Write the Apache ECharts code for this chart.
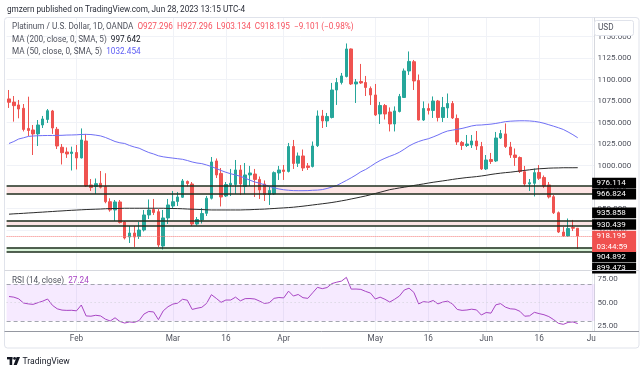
<!DOCTYPE html>
<html><head><meta charset="utf-8">
<script src="https://cdn.jsdelivr.net/npm/echarts/dist/echarts.min.js"></script>
<style>html,body{margin:0;padding:0;background:#fff}#c{width:643px;height:373px}</style>
</head><body><div id="c"></div>
<script>
const dates = ['2023-01-12','2023-01-13','2023-01-16','2023-01-17','2023-01-18','2023-01-19','2023-01-20','2023-01-23','2023-01-24','2023-01-25','2023-01-26','2023-01-27','2023-01-30','2023-01-31',
'2023-02-01','2023-02-02','2023-02-03','2023-02-06','2023-02-07','2023-02-08','2023-02-09','2023-02-10','2023-02-13','2023-02-14','2023-02-15','2023-02-16','2023-02-17','2023-02-20','2023-02-21','2023-02-22','2023-02-23','2023-02-24','2023-02-27','2023-02-28',
'2023-03-01','2023-03-02','2023-03-03','2023-03-06','2023-03-07','2023-03-08','2023-03-09','2023-03-10','2023-03-13','2023-03-14','2023-03-15','2023-03-16','2023-03-17','2023-03-20','2023-03-21','2023-03-22','2023-03-23','2023-03-24','2023-03-27','2023-03-28','2023-03-29','2023-03-30','2023-03-31',
'2023-04-03','2023-04-04','2023-04-05','2023-04-06','2023-04-10','2023-04-11','2023-04-12','2023-04-13','2023-04-14','2023-04-17','2023-04-18','2023-04-19','2023-04-20','2023-04-21','2023-04-24','2023-04-25','2023-04-26','2023-04-27','2023-04-28',
'2023-05-01','2023-05-02','2023-05-03','2023-05-04','2023-05-05','2023-05-08','2023-05-09','2023-05-10','2023-05-11','2023-05-12','2023-05-15','2023-05-16','2023-05-17','2023-05-18','2023-05-19','2023-05-22','2023-05-23','2023-05-24','2023-05-25','2023-05-26','2023-05-29','2023-05-30','2023-05-31',
'2023-06-01','2023-06-02','2023-06-05','2023-06-06','2023-06-07','2023-06-08','2023-06-09','2023-06-12','2023-06-13','2023-06-14','2023-06-15','2023-06-16','2023-06-19','2023-06-20','2023-06-21','2023-06-22','2023-06-23','2023-06-26','2023-06-27','2023-06-28','2023-06-29','2023-06-30',
'2023-07-03'];

const tickLabels = {'2023-02-01':'Feb','2023-03-01':'Mar','2023-03-16':'16','2023-04-03':'Apr','2023-05-01':'May','2023-05-16':'16','2023-06-01':'Jun','2023-06-16':'16','2023-07-03':'Jul'};

const opens = [1077.6,1073.9,1070.6,1066.7,1043.3,1041.5,1036.9,1047.3,1053.7,1063.6,
1042.3,1021.4,1015.9,1014.2,1015.3,1009.0,1028.7,977.6,975.8,979.5,
975.6,958.1,948.5,957.8,934.5,917.1,921.7,917.7,925.2,942.7,
949.1,946.5,906.6,939.2,953.1,958.4,963.3,981.6,978.7,932.2,
936.9,944.6,962.1,1005.5,991.0,964.8,977.6,978.1,995.0,975.8,
989.2,990.3,984.0,978.7,966.5,967.1,991.5,995.0,993.3,1022.3,
1002.8,1011.3,999.7,999.1,1023.3,1057.8,1052.0,1056.0,1088.0,1096.7,
1103.7,1135.7,1095.0,1097.9,1096.7,1089.8,1082.2,1060.1,1070.0,1062.4,
1048.5,1063.0,1079.3,1110.1,1120.9,1099.1,1053.1,1066.5,1064.2,1075.2,
1056.0,1067.1,1072.3,1054.9,1027.0,1023.5,1024.1,1028.7,1022.3,996.2,
1007.2,1005.5,1032.2,1036.9,1021.7,1012.4,1009.5,993.0,978.7,979.5,
992.1,986.3,977.6,963.9,945.3,922.9,918.2,928.1,927.296];
const closes = [1073.7,1069.8,1065.9,1042.1,1040.9,1036.9,1047.3,1054.3,1063.9,1043.8,
1022.9,1015.1,1013.6,1015.9,1009.0,1029.9,976.4,974.6,979.1,974.9,
958.1,948.5,957.8,934.0,915.9,921.7,917.1,925.2,942.7,948.5,
945.6,907.8,939.2,954.3,958.1,963.6,982.2,979.3,932.2,937.4,
944.4,962.1,1004.3,989.2,963.6,978.1,979.5,995.0,978.7,989.2,
991.5,984.0,971.7,966.5,971.2,991.9,995.0,993.3,1022.3,1002.6,
1011.3,997.3,997.9,1022.9,1057.8,1052.0,1057.2,1088.0,1096.7,1104.3,
1135.7,1095.0,1097.3,1096.2,1090.9,1082.2,1059.0,1070.0,1060.1,1048.5,
1063.6,1080.5,1110.1,1121.2,1098.5,1053.1,1066.5,1064.2,1075.2,1056.0,
1067.7,1072.3,1055.5,1027.6,1023.5,1025.2,1028.7,1022.9,996.2,1006.6,
1004.9,1032.2,1037.4,1022.3,1012.4,1009.5,993.3,978.7,980.2,991.9,
985.3,976.4,963.6,945.3,922.9,918.2,927.0,927.296,918.195];
const lows = [1067.1,1051.2,1055.1,1039.8,1034.5,1012.4,1022.9,1043.8,1049.6,1036.9,
1019.4,1001.4,1009.0,994.4,995.6,1008.4,975.2,970.6,967.1,973.5,
956.3,946.5,935.7,932.8,914.2,910.1,905.5,914.8,923.5,938.0,
942.7,905.5,902.5,932.2,949.7,953.1,962.4,975.8,929.9,930.5,
932.8,941.5,960.7,985.7,952.6,963.6,964.8,967.1,965.9,967.1,
976.4,963.6,961.3,958.9,954.3,965.9,983.4,983.4,992.1,996.2,
998.5,993.8,995.0,997.9,1021.7,1043.8,1045.0,1054.9,1070.6,1094.4,
1102.6,1093.8,1072.9,1095.0,1081.0,1070.6,1057.8,1048.5,1053.7,1039.8,
1039.8,1061.9,1078.7,1105.5,1088.0,1052.6,1052.0,1059.5,1055.5,1051.4,
1050.8,1055.5,1054.3,1024.1,1018.3,1021.7,1020.6,1018.3,995.0,995.0,
1002.0,1004.3,1031.0,1020.6,1009.0,999.7,991.5,976.4,970.6,964.2,
983.4,974.1,961.9,943.8,921.7,917.4,917.1,924.0,903.134];
const highs = [1088.0,1081.0,1076.4,1071.7,1080.2,1047.3,1053.1,1057.8,1065.9,1064.8,
1045.0,1025.2,1021.2,1022.1,1024.1,1043.3,1036.9,984.5,985.1,993.8,
991.2,962.1,960.1,960.1,935.7,929.9,929.9,934.5,948.5,960.7,
961.3,949.7,948.5,961.3,970.6,969.4,984.5,982.8,981.0,940.3,
950.8,964.8,1010.1,1008.4,997.3,981.0,996.2,1006.6,1000.8,1003.1,
999.7,996.2,987.4,982.8,975.2,993.3,999.7,1000.8,1026.4,1029.9,
1015.3,1018.8,1003.1,1028.1,1064.2,1064.8,1061.3,1096.2,1102.0,1107.8,
1142.1,1136.3,1100.8,1118.3,1104.3,1092.1,1095.0,1074.1,1071.7,1067.7,
1068.9,1083.4,1113.0,1132.8,1122.9,1106.0,1074.7,1072.3,1080.5,1076.4,
1079.9,1083.9,1075.2,1059.5,1028.7,1035.7,1035.7,1040.3,1027.6,1012.4,
1014.8,1039.2,1041.5,1049.1,1027.6,1020.0,1010.7,999.7,984.5,996.7,
1000.8,988.6,981.0,965.9,946.7,928.7,938.6,936.9,927.296];

const ma200 = [943.6,944.0,944.3,944.6,945.0,945.3,945.7,946.0,946.4,946.7,
947.1,947.4,947.8,948.1,948.4,948.7,949.0,949.2,949.4,949.6,
949.9,950.1,950.2,950.3,950.5,950.5,950.5,950.5,950.5,950.5,
950.5,950.5,950.5,950.3,950.2,950.1,949.9,949.6,949.4,949.2,
949.0,948.7,948.5,948.5,948.5,948.5,948.5,948.5,948.5,948.7,
948.8,949.1,949.3,949.5,949.9,950.2,950.6,950.9,951.3,951.7,
952.3,952.9,953.6,954.3,955.0,955.7,956.4,957.2,958.1,959.1,
960.1,961.3,962.4,963.6,964.8,966.2,967.7,969.1,970.6,972.1,
973.1,974.1,975.0,975.9,977.0,977.9,978.8,979.8,980.7,981.5,
982.3,983.1,984.0,984.8,985.5,986.2,986.7,987.3,988.0,988.8,
989.8,990.6,991.3,991.9,992.4,993.1,993.8,994.5,995.2,995.9,
996.4,996.7,997.1,997.3,997.4,997.6,997.6,997.6,997.642];
const ma50 = [1025.8,1028.1,1031.0,1032.4,1034.0,1034.5,1034.8,1035.0,1035.1,1035.1,
1035.2,1035.3,1035.6,1035.7,1035.9,1036.3,1036.4,1036.2,1035.5,1034.6,
1032.8,1030.5,1028.1,1026.6,1025.8,1023.5,1021.7,1020.3,1017.7,1015.3,
1013.6,1011.5,1010.3,1009.5,1008.8,1008.1,1007.4,1006.0,1004.3,1003.1,
1002.4,1000.8,999.0,996.7,994.4,992.3,990.6,989.2,987.7,985.5,
983.1,981.0,979.6,977.8,976.0,974.3,972.9,972.0,971.4,971.0,
970.9,970.9,971.0,971.4,971.6,972.2,973.5,975.2,977.0,979.9,
982.8,985.9,989.2,992.9,995.6,999.1,1002.8,1006.0,1008.6,1010.9,
1013.0,1015.6,1019.1,1022.9,1025.8,1028.1,1029.9,1031.3,1033.4,1035.7,
1038.3,1040.3,1041.3,1042.3,1043.3,1044.7,1046.2,1047.1,1047.3,1047.8,
1048.3,1049.1,1050.1,1051.2,1051.7,1052.0,1052.2,1052.2,1052.0,1051.5,
1050.6,1049.3,1047.6,1045.9,1044.1,1042.1,1039.2,1036.0,1032.454];
const rsi = [56.5,55.8,54.0,49.5,48.5,48.0,49.8,51.5,53.8,47.0,
43.2,41.8,41.5,41.6,41.0,47.3,35.5,35.2,36.2,35.5,
32.0,30.0,33.5,29.5,27.8,29.0,28.5,30.5,37.5,40.3,
39.8,31.5,41.0,45.5,48.3,49.3,53.5,52.5,42.5,43.8,
44.8,49.1,58.5,54.5,50.2,52.7,52.7,55.8,51.8,54.2,
54.3,53.8,51.5,49.0,49.8,54.5,55.4,55.0,62.3,57.0,
58.7,55.2,54.5,60.5,66.4,65.0,66.2,70.5,72.0,73.2,
77.2,64.5,64.6,64.2,62.0,60.2,53.8,55.8,53.5,50.5,
53.5,57.0,63.5,65.5,61.0,48.5,51.0,50.2,52.2,48.5,
50.5,51.5,48.5,42.5,41.5,41.9,42.8,42.0,36.5,39.2,
38.5,47.5,48.8,45.0,43.2,42.8,40.5,35.2,35.6,39.4,
38.0,36.8,34.8,31.5,27.5,26.4,28.5,29.0,27.24];

const priceTicks = [900,925,950,975,1000,1025,1050,1075,1100,1125,1150];
const rsiTicks = [25,50,75];
const rsiBands = [30,50,70];
const zoneTop = [976.114,935.858,904.892];
const zoneBottom = [966.824,930.439,899.473];
const countdown = '03:44:59';

// ---- styles / layout ----
const FONT = 'Roboto, "Noto Sans", sans-serif';
const UP = '#26a69a', DOWN = '#ef5350';
const zoneFill = ['#fde4e4','#fde4e4','#d9f3d9'];
const zoneLine = '#1e2e1e';
const tagShift = [-3,0,-8,-1,9.5,16,5.3];
const n = opens.length;
const lastClose = closes[n-1];
const prevClose = closes[n-2];
const tagValues = [zoneTop[0],zoneBottom[0],zoneTop[1],zoneBottom[1],zoneTop[2],zoneBottom[2],lastClose];
const tagBg = ['#000','#000','#000','#000','#000','#000','#f0514f'];
const tickIdx = new Set();
dates.forEach((d,i)=>{ if (tickLabels[d]) tickIdx.add(i); });
const ohlc = opens.map((o,i)=>[o, closes[i], lows[i], highs[i]]);

const chart = echarts.init(document.getElementById('c'), null, {renderer:'canvas'});
const axisTxt = '#50535e';
const gridCol = '#f0f2f7';

const zoneAreas = zoneTop.map((t,k)=>[{yAxis:zoneBottom[k], itemStyle:{color:zoneFill[k]}},{yAxis:t}]);
const zoneLines = [];
zoneTop.forEach((t,k)=>{
  zoneLines.push({yAxis:t, lineStyle:{color:zoneLine, width:1.5, type:'solid'}});
  zoneLines.push({yAxis:zoneBottom[k], lineStyle:{color:zoneLine, width:1.5, type:'solid'}});
});
zoneLines.push({yAxis:lastClose, lineStyle:{color:'#f47c7a', width:1, type:'dotted'}});

const chg = lastClose - prevClose;
const pct = chg / prevClose * 100;
const fmtS = v => (v < 0 ? '\u2212' : '+') + Math.abs(v).toFixed(3);
const fmtP = v => (v < 0 ? '\u2212' : '+') + Math.abs(v).toFixed(2) + '%';

function txt(x, y, text, rich, extra){
  return Object.assign({type:'text', x:x, y:y, z:100, silent:true,
    style:{text:text, rich:rich, fontFamily:FONT, fontSize:8.2, fill:'#50535e', verticalAlign:'middle', align:'left'}}, extra||{});
}
const legRich = {
  g:{fill:'#50535e', fontFamily:FONT, fontSize:8.2},
  r:{fill:'#f7525f', fontFamily:FONT, fontSize:8.2},
  k:{fill:'#131722', fontFamily:FONT, fontSize:8.2},
  b:{fill:'#5d5df5', fontFamily:FONT, fontSize:8.2},
  p:{fill:'#a845c4', fontFamily:FONT, fontSize:8.2}
};

const option = {
  animation:false,
  backgroundColor:'#fff',
  textStyle:{fontFamily:FONT},
  grid:[
    {left:6.6, top:18, width:588, height:252, outerBoundsMode:'none', containLabel:false},
    {left:6.6, top:272, width:588, height:59, outerBoundsMode:'none', containLabel:false}
  ],
  xAxis:[
    {type:'category', gridIndex:0, data:dates, boundaryGap:true,
     axisLine:{show:false}, axisTick:{show:false}, axisLabel:{show:false},
     splitLine:{show:true, alignWithLabel:true, interval:(i)=>tickIdx.has(i), lineStyle:{color:gridCol, width:1}}},
    {type:'category', gridIndex:1, data:dates, boundaryGap:true,
     axisLine:{show:false}, axisTick:{show:false},
     axisLabel:{show:true, interval:(i)=>tickIdx.has(i), formatter:(v)=>tickLabels[v]||'', color:axisTxt, fontSize:8.2, margin:4, hideOverlap:false},
     splitLine:{show:true, alignWithLabel:true, interval:(i)=>tickIdx.has(i), lineStyle:{color:gridCol, width:1}}}
  ],
  yAxis:[
    {type:'value', gridIndex:0, position:'right', min:878.7, max:1171.7, scale:true,
     axisLine:{show:true, lineStyle:{color:'#d6d8de'}}, axisTick:{show:false, customValues:priceTicks},
     axisLabel:{customValues:priceTicks, formatter:(v)=>Number(v).toFixed(3), color:axisTxt, fontSize:8, margin:3},
     splitLine:{show:true, customValues:priceTicks, lineStyle:{color:gridCol}}},
    {type:'value', gridIndex:1, position:'right', min:19.2, max:83.0, scale:true,
     axisLine:{show:true, lineStyle:{color:'#d6d8de'}}, axisTick:{show:false, customValues:rsiTicks},
     axisLabel:{customValues:rsiTicks, formatter:(v)=>Number(v).toFixed(2), color:axisTxt, fontSize:8, margin:3},
     splitLine:{show:false}}
  ],
  series:[
    {type:'candlestick', name:'XPTUSD', xAxisIndex:0, yAxisIndex:0, data:ohlc, barWidth:3, clip:false, silent:true,
     itemStyle:{color:UP, color0:DOWN, borderColor:UP, borderColor0:DOWN, borderWidth:1},
     markArea:{silent:true, data:zoneAreas},
     markLine:{silent:true, symbol:['none','none'], label:{show:false}, data:zoneLines}},
    {type:'line', name:'MA200', xAxisIndex:0, yAxisIndex:0, data:ma200, symbol:'none', silent:true,
     lineStyle:{color:'#2b2b2b', width:1}},
    {type:'line', name:'MA50', xAxisIndex:0, yAxisIndex:0, data:ma50, symbol:'none', silent:true,
     lineStyle:{color:'#6f6ff5', width:1}},
    {type:'custom', name:'tags', xAxisIndex:0, yAxisIndex:0, clip:false, silent:true, z:10,
     data:tagValues.map((v,k)=>[0, v, k]),
     renderItem:function(params, api){
       const k = api.value(2);
       const v = api.value(1);
       const yc = api.coord([0, v])[1] + tagShift[k];
       const cs = params.coordSys;
       const x0 = cs.x + cs.width;
       const two = (k === tagValues.length - 1);
       const h = two ? 21.4 : 10.7;
       const t = two ? (v.toFixed(3) + '\n' + countdown) : v.toFixed(3);
       return {type:'group', children:[
         {type:'rect', shape:{x:x0-2.5, y:yc-h/2, width:44, height:h}, style:{fill:tagBg[k]}},
         {type:'text', x:x0+2, y:yc, style:{text:t, fill:'#fff', fontSize:8, fontFamily:FONT, verticalAlign:'middle', align:'left', lineHeight:10.7}}
       ]};
     }},
    {type:'line', name:'RSI', xAxisIndex:1, yAxisIndex:1, data:rsi, symbol:'none', silent:true,
     lineStyle:{color:'#a845c4', width:1},
     markArea:{silent:true, data:[[{yAxis:rsiBands[0], itemStyle:{color:'rgba(153,21,255,0.09)'}},{yAxis:rsiBands[2]}]]},
     markLine:{silent:true, symbol:['none','none'], label:{show:false}, data:[
       {yAxis:rsiBands[2], lineStyle:{color:'#a3a6af', type:[4,3], width:1}},
       {yAxis:rsiBands[1], lineStyle:{color:'#d0d2d8', type:[1,3], width:1}},
       {yAxis:rsiBands[0], lineStyle:{color:'#a3a6af', type:[4,3], width:1}}
     ]}}
  ],
  graphic:[
    {type:'rect', z:0, silent:true, shape:{x:4.5, y:17.5, width:634.5, height:330.5, r:3}, style:{fill:'none', stroke:'#e0e3eb', lineWidth:1}},
    {type:'line', z:100, silent:true, shape:{x1:4.5, y1:270.5, x2:639, y2:270.5}, style:{stroke:'#d6d8de', lineWidth:1}},
    {type:'line', z:100, silent:true, shape:{x1:4.5, y1:331.5, x2:639, y2:331.5}, style:{stroke:'#9598a1', lineWidth:1}},
    {type:'rect', z:99, silent:true, shape:{x:596, y:332, width:42, height:15}, style:{fill:'#fff'}},
    {type:'rect', z:100, silent:true, shape:{x:594.5, y:20.5, width:39, height:15, r:2}, style:{fill:'#fff', stroke:'#e0e3eb', lineWidth:1}},
    txt(598, 28, 'USD', null, {}),
    txt(7, 9.5, 'gmzern published on TradingView.com, Jun 28, 2023 13:15 UTC-4', null, {style:{text:'gmzern published on TradingView.com, Jun 28, 2023 13:15 UTC-4', fontFamily:FONT, fontSize:8.2, fill:'#2a2e39', verticalAlign:'middle', align:'left'}}),
    txt(12, 27, '{g|Platinum / U.S. Dollar, 1D, OANDA}  {r|O' + opens[n-1].toFixed(3) + '}  {r|H' + highs[n-1].toFixed(3) + '}  {r|L' + lows[n-1].toFixed(3) + '}  {r|C' + lastClose.toFixed(3) + '}  {r|' + fmtS(chg) + ' (' + fmtP(pct) + ')}', legRich),
    txt(12, 40, '{g|MA (200, close, 0, SMA, 5)}  {k|' + ma200[n-1].toFixed(3) + '}', legRich),
    txt(12, 52, '{g|MA (50, close, 0, SMA, 5)}  {b|' + ma50[n-1].toFixed(3) + '}', legRich),
    txt(12, 281, '{g|RSI (14, close)}  {p|' + rsi[n-1].toFixed(2) + '}', legRich),
    {type:'rect', z:100, silent:true, shape:{x:7, y:357, width:5.5, height:2.4}, style:{fill:'#131722'}},
    {type:'rect', z:100, silent:true, shape:{x:9.6, y:357, width:2.6, height:8}, style:{fill:'#131722'}},
    {type:'circle', z:100, silent:true, shape:{cx:14.6, cy:358.4, r:1.4}, style:{fill:'#131722'}},
    {type:'polygon', z:100, silent:true, shape:{points:[[16.6,357],[20,357],[16.8,365],[13.6,365]]}, style:{fill:'#131722'}},
    txt(22.5, 361.5, 'TradingView', null, {style:{text:'TradingView', fontFamily:FONT, fontSize:8.6, fill:'#131722', verticalAlign:'middle', align:'left'}})
  ]
};
chart.setOption(option);
</script>
</body></html>
